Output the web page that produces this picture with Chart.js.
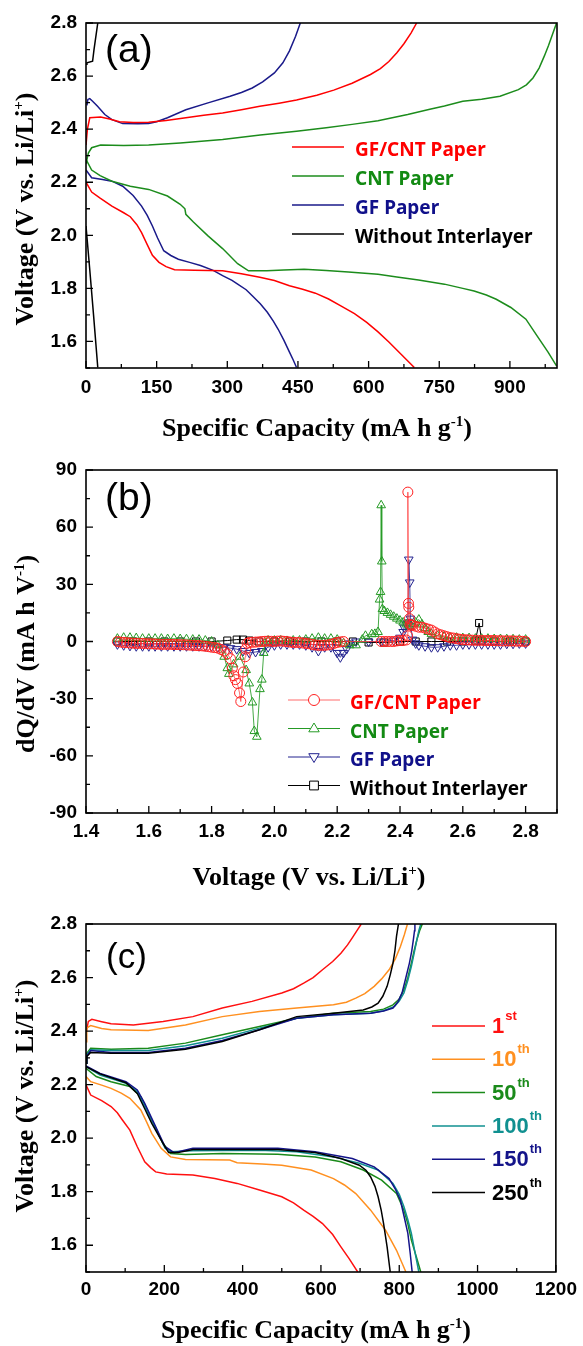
<!DOCTYPE html>
<html>
<head>
<meta charset="utf-8">
<script src="https://cdn.jsdelivr.net/npm/chart.js@4.4.1/dist/chart.umd.min.js"></script>
<style>
  body { margin: 0; background: #fff; width: 583px; height: 1346px; position: relative; overflow: hidden; }
  canvas { position: absolute; left: 0; }
</style>
</head>
<body>
<canvas id="chartA" width="583" height="448" style="top:0px"></canvas>
<canvas id="chartB" width="583" height="458" style="top:440px"></canvas>
<canvas id="chartC" width="583" height="456" style="top:890px"></canvas>
<script>
// ---- (a) first cycle voltage profiles: [capacity, voltage]
const gfcntDischarge = [[0,2.20],[12,2.163],[30,2.14],[55,2.11],[80,2.085],[94,2.07],[108,2.04],[118,2.01],[130,1.965],[141,1.925],[155,1.898],[170,1.882],[188,1.87],[230,1.868],[290,1.866],[330,1.855],[369,1.842],[400,1.83],[432,1.81],[460,1.797],[487,1.782],[515,1.76],[541,1.734],[570,1.705],[596,1.672],[620,1.636],[643,1.598],[670,1.55],[697,1.502]];
const gfcntCharge = [[0,2.34],[3,2.40],[8,2.443],[31,2.446],[50,2.438],[71,2.428],[100,2.425],[133,2.426],[170,2.433],[212,2.443],[250,2.452],[290,2.461],[330,2.473],[369,2.486],[410,2.498],[447,2.51],[490,2.528],[526,2.547],[565,2.573],[604,2.606],[625,2.628],[643,2.655],[660,2.688],[675,2.722],[690,2.762],[702,2.8]];
const cntDischarge = [[0,2.286],[12,2.246],[30,2.225],[55,2.204],[94,2.185],[133,2.173],[173,2.148],[200,2.117],[210,2.1],[212,2.079],[228,2.05],[259,1.998],[290,1.95],[322,1.893],[345,1.866],[384,1.866],[420,1.869],[463,1.872],[510,1.867],[557,1.862],[620,1.853],[660,1.843],[706,1.832],[761,1.816],[800,1.8],[824,1.79],[850,1.775],[871,1.759],[902,1.728],[934,1.684],[957,1.623],[981,1.56],[999,1.508]];
const cntCharge = [[0,2.27],[5,2.31],[12,2.33],[31,2.34],[80,2.338],[133,2.34],[200,2.348],[290,2.361],[370,2.378],[447,2.392],[510,2.405],[565,2.418],[620,2.432],[683,2.455],[730,2.475],[761,2.487],[800,2.505],[840,2.513],[879,2.524],[918,2.549],[935,2.567],[949,2.593],[962,2.63],[973,2.675],[982,2.715],[989,2.75],[999,2.8]];
const gfDischarge = [[0,2.246],[12,2.217],[35,2.21],[55,2.204],[78,2.185],[100,2.15],[118,2.11],[130,2.075],[141,2.035],[152,1.99],[165,1.942],[180,1.924],[196,1.91],[220,1.898],[243,1.886],[270,1.868],[290,1.848],[310,1.83],[322,1.816],[340,1.795],[353,1.772],[370,1.742],[385,1.71],[398,1.676],[408,1.646],[420,1.605],[432,1.56],[440,1.53],[447,1.502]];
const gfCharge = [[2,2.49],[4,2.512],[8,2.515],[14,2.505],[24,2.487],[40,2.455],[55,2.436],[78,2.421],[110,2.42],[133,2.421],[150,2.428],[173,2.443],[190,2.456],[212,2.473],[259,2.499],[306,2.524],[330,2.538],[353,2.555],[375,2.578],[400,2.612],[418,2.65],[432,2.695],[445,2.75],[455,2.8]];
const noneDischarge = [[0,2.035],[8,1.87],[16,1.7],[25,1.502]];
const noneCharge = [[0,2.645],[2,2.65],[14,2.656],[17,2.7],[20,2.737],[25,2.8]];

// ---- (b) dQ/dV: [voltage, dQ/dV]
const gfcntDq = [[1.50,0],[1.51,-0.3],[1.52,-0.5],[1.53,-0.6],[1.54,-0.8],[1.55,-0.9],[1.56,-1.0],[1.57,-1.0],[1.58,-1.0],[1.59,-1.1],[1.60,-1.2],[1.61,-1.2],[1.62,-1.3],[1.63,-1.4],[1.64,-1.5],[1.65,-1.5],[1.66,-1.5],[1.67,-1.5],[1.68,-1.6],[1.69,-1.6],[1.70,-1.7],[1.71,-1.7],[1.72,-1.8],[1.73,-1.9],[1.74,-2.0],[1.75,-2.1],[1.76,-2.2],[1.77,-2.3],[1.78,-2.5],[1.79,-2.7],[1.80,-3.0],[1.81,-3.2],[1.82,-3.5],[1.83,-4.2],[1.84,-5.0],[1.85,-6.5],[1.86,-9.0],[1.866,-14],[1.871,-18],[1.876,-20],[1.882,-22],[1.889,-27],[1.893,-31.5],[1.901,-16],[1.907,-8],[1.909,-4],[1.913,-1],[1.92,-0.5],[1.93,-0.4],[1.94,-0.3],[1.95,-0.2],[1.96,0],[1.97,0.1],[1.98,0.2],[1.99,0.1],[2.00,0],[2.01,0.2],[2.02,0.3],[2.03,0.1],[2.04,0],[2.05,-0.3],[2.06,-0.5],[2.07,-0.5],[2.08,-0.5],[2.09,-0.8],[2.10,-1.0],[2.11,-1.2],[2.12,-1.5],[2.13,-1.8],[2.14,-2.0],[2.15,-2.0],[2.16,-2.0],[2.17,-1.8],[2.18,-1.5],[2.19,-1.0],[2.20,-0.5],[2.21,-0.2],[2.22,0],[2.34,0],[2.35,0],[2.36,0],[2.37,0],[2.38,0],[2.39,0.3],[2.40,0.5],[2.41,0.5],[2.42,0.8],[2.424,3],[2.425,78.4],[2.427,20],[2.428,18],[2.430,12],[2.432,9],[2.435,8.5],[2.44,8.5],[2.45,8],[2.46,7.5],[2.47,7.5],[2.48,7],[2.49,6.5],[2.50,6],[2.51,5],[2.52,4],[2.53,3.5],[2.54,3],[2.55,2.5],[2.56,2],[2.57,1.8],[2.58,1.5],[2.59,1.2],[2.60,1],[2.61,0.9],[2.62,0.8],[2.63,0.7],[2.64,0.6],[2.65,0.6],[2.66,0.6],[2.67,0.5],[2.68,0.5],[2.69,0.5],[2.70,0.5],[2.71,0.4],[2.72,0.4],[2.73,0.3],[2.74,0.3],[2.75,0.3],[2.76,0.3],[2.77,0.2],[2.78,0.2],[2.79,0.1],[2.80,0]];
const cntDq = [[1.50,1.5],[1.52,2],[1.54,2],[1.56,1.8],[1.58,1.5],[1.60,1.5],[1.62,1.5],[1.64,1.5],[1.66,1.3],[1.68,1.5],[1.70,1.3],[1.72,1.2],[1.74,1.0],[1.76,1.0],[1.78,0.5],[1.80,0],[1.82,-2],[1.84,-8],[1.85,-14],[1.855,-17],[1.87,-12],[1.89,-8],[1.91,-15],[1.92,-22],[1.93,-32],[1.936,-47],[1.944,-50],[1.954,-25],[1.96,-20],[1.966,-6],[1.97,-1],[1.98,0.5],[2.00,0.5],[2.02,0.5],[2.04,0.3],[2.06,0.5],[2.08,0.5],[2.10,1],[2.12,1.5],[2.14,2],[2.16,1.5],[2.18,1.5],[2.20,1],[2.22,-1],[2.24,-2],[2.26,-2],[2.28,1],[2.29,3],[2.31,3.8],[2.32,4],[2.33,5],[2.335,22],[2.338,26],[2.34,71.5],[2.342,42],[2.344,17],[2.35,16],[2.36,15],[2.37,14],[2.38,13],[2.39,12],[2.40,11],[2.41,10],[2.42,9],[2.43,8],[2.44,9],[2.45,10],[2.46,11.5],[2.47,9],[2.48,7],[2.49,5],[2.50,4],[2.52,3],[2.54,2.5],[2.56,2],[2.58,2],[2.60,1.8],[2.62,1.8],[2.64,1.5],[2.66,1.5],[2.68,1.5],[2.70,1.3],[2.72,1.3],[2.74,1.2],[2.76,1.2],[2.78,1],[2.80,1]];
const gfDq = [[1.50,-1.5],[1.52,-2],[1.54,-2.3],[1.56,-2.5],[1.58,-2.5],[1.60,-2.5],[1.62,-2.5],[1.64,-2.5],[1.66,-2.5],[1.68,-2.5],[1.70,-2.5],[1.72,-2.5],[1.74,-2.5],[1.76,-2.5],[1.78,-2.5],[1.80,-2.5],[1.82,-3],[1.84,-3],[1.86,-3.5],[1.88,-4],[1.90,-5],[1.92,-6],[1.94,-5.5],[1.96,-5],[1.98,-3],[2.00,-2],[2.02,-1.5],[2.04,-1.5],[2.06,-1.5],[2.08,-1.5],[2.10,-2],[2.12,-3],[2.14,-5],[2.16,-3],[2.18,-3],[2.20,-6],[2.21,-8.3],[2.22,-6],[2.23,-4],[2.24,-1],[2.26,0],[2.30,0],[2.34,0],[2.38,0.5],[2.40,2],[2.41,5],[2.413,7.3],[2.42,9],[2.425,10],[2.428,43],[2.431,31],[2.433,12],[2.435,8],[2.44,1],[2.45,-1],[2.46,-2],[2.48,-2.5],[2.50,-3],[2.52,-3],[2.54,-2.5],[2.56,-2],[2.58,-2],[2.60,-1.5],[2.62,-1.5],[2.64,-1.5],[2.66,-1.5],[2.68,-1.5],[2.70,-1.5],[2.72,-1.5],[2.74,-1.2],[2.76,-1.2],[2.78,-1],[2.80,-1]];
const noneDq = [[1.50,0],[1.55,0],[1.60,0],[1.65,0],[1.70,0],[1.75,0],[1.80,0],[1.85,0.5],[1.88,1],[1.90,1],[1.92,0.5],[1.95,0],[2.00,0],[2.05,0],[2.10,0],[2.15,0],[2.20,0],[2.25,0],[2.30,-0.5],[2.35,-0.5],[2.40,0],[2.45,0],[2.50,0],[2.55,0],[2.60,0],[2.64,0.5],[2.652,9.7],[2.66,0.5],[2.70,0],[2.75,0],[2.80,0]];

// ---- (c) GF/CNT cell over cycling: [capacity, voltage]
const c1Dis = [[0,2.199],[12,2.161],[40,2.14],[64,2.118],[80,2.095],[93,2.068],[112,2.03],[131,1.968],[150,1.912],[165,1.89],[178,1.874],[206,1.866],[273,1.862],[329,1.849],[386,1.831],[443,1.806],[500,1.781],[530,1.758],[556,1.731],[580,1.708],[604,1.681],[630,1.64],[651,1.594],[672,1.55],[694,1.5]];
const c1Cha = [[0,2.392],[6,2.436],[15,2.444],[40,2.435],[64,2.427],[121,2.423],[197,2.436],[273,2.454],[348,2.486],[424,2.511],[500,2.542],[530,2.558],[556,2.579],[580,2.6],[604,2.629],[630,2.66],[651,2.691],[668,2.722],[680,2.748],[692,2.775],[703,2.8]];
const c10Dis = [[0,2.23],[12,2.211],[40,2.198],[64,2.186],[90,2.168],[112,2.149],[140,2.105],[155,2.06],[168,2.018],[192,1.962],[216,1.93],[254,1.92],[367,1.918],[386,1.908],[450,1.903],[500,1.899],[575,1.881],[632,1.849],[660,1.825],[689,1.793],[727,1.731],[765,1.656],[793,1.581],[817,1.5]];
const c10Cha = [[0,2.36],[2,2.411],[12,2.421],[40,2.41],[64,2.405],[159,2.402],[254,2.423],[348,2.454],[443,2.473],[538,2.486],[632,2.498],[665,2.508],[689,2.523],[712,2.54],[736,2.567],[755,2.595],[774,2.629],[790,2.67],[803,2.716],[813,2.76],[821,2.8]];
const c50Dis = [[0,2.261],[26,2.23],[64,2.211],[112,2.193],[140,2.155],[168,2.068],[197,1.98],[216,1.943],[254,1.939],[348,1.943],[490,1.94],[585,1.93],[651,1.912],[708,1.881],[755,1.843],[793,1.793],[812,1.731],[822,1.68],[831,1.619],[843,1.56],[855,1.5]];
const c50Cha = [[0,2.28],[2,2.317],[12,2.336],[64,2.332],[159,2.336],[254,2.355],[348,2.386],[443,2.417],[538,2.448],[632,2.467],[727,2.473],[760,2.482],[784,2.498],[800,2.52],[812,2.554],[822,2.6],[831,2.654],[838,2.7],[845,2.741],[852,2.775],[859,2.8]];
const c100Dis = [[0,2.267],[36,2.236],[102,2.205],[131,2.174],[150,2.12],[168,2.068],[202,1.962],[216,1.949],[273,1.953],[443,1.955],[538,1.949],[632,1.93],[698,1.906],[746,1.881],[784,1.831],[800,1.79],[812,1.744],[822,1.695],[831,1.644],[840,1.575],[850,1.5]];
const c100Cha = [[0,2.28],[2,2.311],[12,2.33],[64,2.327],[159,2.327],[254,2.345],[348,2.373],[443,2.411],[538,2.448],[632,2.461],[727,2.467],[760,2.476],[788,2.492],[800,2.512],[812,2.542],[822,2.59],[831,2.642],[838,2.69],[845,2.741],[850,2.775],[855,2.8]];
const c150Dis = [[0,2.27],[36,2.242],[102,2.211],[131,2.18],[150,2.13],[168,2.074],[202,1.968],[225,1.946],[273,1.962],[490,1.962],[585,1.949],[680,1.924],[736,1.893],[774,1.849],[790,1.81],[803,1.768],[812,1.71],[822,1.644],[828,1.57],[833,1.5]];
const c150Cha = [[0,2.28],[2,2.307],[12,2.327],[64,2.32],[159,2.32],[254,2.336],[348,2.365],[443,2.405],[538,2.448],[632,2.461],[727,2.467],[760,2.475],[784,2.486],[797,2.51],[807,2.542],[817,2.6],[826,2.654],[832,2.7],[836,2.741],[839,2.775],[840,2.8]];
const c250Dis = [[0,2.267],[36,2.24],[102,2.207],[131,2.167],[150,2.11],[168,2.055],[197,1.98],[211,1.946],[235,1.946],[273,1.958],[490,1.958],[585,1.946],[651,1.924],[698,1.899],[715,1.88],[727,1.855],[738,1.82],[746,1.781],[754,1.73],[760,1.681],[769,1.594],[777,1.5]];
const c250Cha = [[0,2.28],[2,2.305],[12,2.32],[64,2.317],[159,2.317],[254,2.332],[348,2.361],[443,2.405],[538,2.454],[632,2.467],[708,2.479],[730,2.49],[746,2.504],[758,2.53],[769,2.567],[777,2.61],[784,2.654],[789,2.7],[793,2.754],[798,2.8]];

// ---- tick labels
const ticksCapA = [0, 150, 300, 450, 600, 750, 900];
const ticksCapC = [0, 200, 400, 600, 800, 1000, 1200];
const ticksVolt = [1.6, 1.8, 2.0, 2.2, 2.4, 2.6, 2.8];
const ticksVoltB = [1.4, 1.6, 1.8, 2.0, 2.2, 2.4, 2.6, 2.8];
const ticksDq = [-90, -60, -30, 0, 30, 60, 90];

const tickFont = { family: "'Liberation Sans', Arial, sans-serif", size: 19, weight: 'bold' };
const titleFont = "bold 26px 'Liberation Serif', 'Times New Roman', serif";
const titleSupFont = "bold 15px 'Liberation Serif', 'Times New Roman', serif";

function pts(arr) { return arr.map(p => ({ x: p[0], y: p[1] })); }

function drawRich(ctx, parts, x, y, font, supFont, rise, color) {
  // parts: [text, isSup]; drawn centred on x, baseline y
  let w = 0;
  parts.forEach(p => { ctx.font = p[1] ? supFont : font; w += ctx.measureText(p[0]).width; });
  let cx = x - w / 2;
  ctx.fillStyle = color || '#000';
  ctx.textBaseline = 'alphabetic';
  ctx.textAlign = 'left';
  parts.forEach(p => {
    ctx.font = p[1] ? supFont : font;
    ctx.fillText(p[0], cx, p[1] ? y - rise : y);
    cx += ctx.measureText(p[0]).width;
  });
}

function drawMarker(ctx, style, x, y, r, color) {
  ctx.save();
  ctx.strokeStyle = color; ctx.lineWidth = 1;
  ctx.beginPath();
  if (style === 'circle') {
    ctx.arc(x, y, r, 0, Math.PI * 2);
  } else if (style === 'triangle') {
    ctx.moveTo(x, y - r); ctx.lineTo(x + r * 0.95, y + r * 0.6); ctx.lineTo(x - r * 0.95, y + r * 0.6); ctx.closePath();
  } else if (style === 'down') {
    ctx.moveTo(x, y + r); ctx.lineTo(x + r * 0.95, y - r * 0.6); ctx.lineTo(x - r * 0.95, y - r * 0.6); ctx.closePath();
  } else {
    ctx.rect(x - r * 0.8, y - r * 0.8, r * 1.6, r * 1.6);
  }
  ctx.fillStyle = '#fff'; ctx.fill();
  ctx.stroke();
  ctx.restore();
}

const panelDeco = {
  id: 'panel',
  afterDatasetsDraw(chart, args, o) {
    const ctx = chart.ctx;
    const ca = chart.chartArea;
    const xs = chart.scales.x, ys = chart.scales.y;
    ctx.save();
    // frame
    ctx.strokeStyle = '#000'; ctx.lineWidth = 1.6;
    ctx.strokeRect(ca.left, ca.top, ca.right - ca.left, ca.bottom - ca.top);
    // inward ticks, major and minor (minor halfway between majors)
    ctx.lineWidth = 1.3;
    const minorOf = (scale) => {
      const v = scale.ticks.map(t => t.value), out = [];
      const half = (v[1] - v[0]) / 2;
      if (v[0] - half >= scale.min - 1e-9) out.push(v[0] - half);
      for (let i = 0; i < v.length - 1; i++) out.push((v[i] + v[i + 1]) / 2);
      if (v[v.length - 1] + half <= scale.max + 1e-9) out.push(v[v.length - 1] + half);
      return out;
    };
    ctx.beginPath();
    xs.ticks.forEach(t => { const px = xs.getPixelForValue(t.value); ctx.moveTo(px, ca.bottom); ctx.lineTo(px, ca.bottom - 7); });
    minorOf(xs).forEach(v => { const px = xs.getPixelForValue(v); ctx.moveTo(px, ca.bottom); ctx.lineTo(px, ca.bottom - 4); });
    ys.ticks.forEach(t => { const py = ys.getPixelForValue(t.value); ctx.moveTo(ca.left, py); ctx.lineTo(ca.left + 7, py); });
    minorOf(ys).forEach(v => { const py = ys.getPixelForValue(v); ctx.moveTo(ca.left, py); ctx.lineTo(ca.left + 4, py); });
    ctx.stroke();

    // axis titles
    drawRich(ctx, o.xTitle, o.xTitlePos[0], o.xTitlePos[1], titleFont, titleSupFont, 10);
    ctx.save();
    ctx.translate(o.yTitlePos[0], o.yTitlePos[1]);
    ctx.rotate(-Math.PI / 2);
    drawRich(ctx, o.yTitle, 0, 0, titleFont, titleSupFont, 10);
    ctx.restore();

    // panel label
    ctx.fillStyle = '#000';
    ctx.font = o.labelFont;
    ctx.textAlign = 'left'; ctx.textBaseline = 'alphabetic';
    ctx.fillText(o.label, o.labelPos[0], o.labelPos[1]);

    // legend
    const lg = o.legend;
    lg.items.forEach((it, i) => {
      const y = lg.y + i * lg.gap;
      ctx.strokeStyle = it.line; ctx.lineWidth = lg.lineWidth;
      ctx.beginPath(); ctx.moveTo(lg.x0, y); ctx.lineTo(lg.x1, y); ctx.stroke();
      if (it.marker) drawMarker(ctx, it.marker, (lg.x0 + lg.x1) / 2, y, 5.5, it.markerColor);
      ctx.font = lg.font;
      ctx.fillStyle = it.text; ctx.textBaseline = 'alphabetic'; ctx.textAlign = 'left';
      ctx.fillText(it.label, lg.tx, y + lg.baseShift);
      if (it.sup) {
        const w = ctx.measureText(it.label).width;
        ctx.font = lg.supFont;
        ctx.fillText(it.sup, lg.tx + w + 1, y + lg.baseShift - lg.supRise);
      }
    });
    ctx.restore();
  }
};

function axesFor(xr, yr, xTicks, yTicks, xFmt, yFmt, xPad, xHeight) {
  return {
    x: {
      type: 'linear', min: xr[0], max: xr[1],
      afterBuildTicks(s) { s.ticks = xTicks.map(v => ({ value: v })); },
      ticks: { font: tickFont, color: '#000', padding: xPad, callback: xFmt, maxRotation: 0 },
      grid: { display: false, drawTicks: false }, border: { display: false },
      afterFit(s) { s.height = xHeight; }
    },
    y: {
      type: 'linear', min: yr[0], max: yr[1],
      afterBuildTicks(s) { s.ticks = yTicks.map(v => ({ value: v })); },
      ticks: { font: tickFont, color: '#000', padding: 9, callback: yFmt },
      grid: { display: false, drawTicks: false }, border: { display: false },
      afterFit(s) { s.width = 86; }
    }
  };
}
const fmtInt = v => String(Math.round(v));
const fmt1 = v => v.toFixed(1);

function lineSet(data, color, width) {
  return { data: pts(data), borderColor: color, borderWidth: width || 1.5, showLine: true,
           pointRadius: 0, pointHoverRadius: 0, fill: false, tension: 0 };
}

const RED = '#ff0000', GREEN = '#1c8c1c', BLUE = '#1a1a8a', BLACK = '#000000';
const legendFontA = "bold 19px 'Noto Sans', 'Open Sans', sans-serif";

// ---------- chart (a)
new Chart(document.getElementById('chartA'), {
  type: 'scatter',
  data: { datasets: [
    lineSet(gfcntDischarge, RED), lineSet(gfcntCharge, RED),
    lineSet(cntDischarge, GREEN), lineSet(cntCharge, GREEN),
    lineSet(gfDischarge, BLUE), lineSet(gfCharge, BLUE),
    lineSet(noneDischarge, BLACK), lineSet(noneCharge, BLACK)
  ] },
  options: {
    responsive: false, animation: false, devicePixelRatio: 1,
    layout: { padding: { top: 23, right: 26, left: 0, bottom: 0 } },
    scales: axesFor([0, 1000], [1.5, 2.8], ticksCapA, ticksVolt, fmtInt, fmt1, 8, 80),
    plugins: {
      legend: { display: false }, tooltip: { enabled: false },
      panel: {
        xTitle: [['Specific Capacity (mA h g'], ['-1', true], [')']], xTitlePos: [317, 436],
        yTitle: [['Voltage (V vs. Li/Li'], ['+', true], [')']], yTitlePos: [33, 209],
        label: '(a)', labelFont: "39px 'Liberation Sans', Arial, sans-serif", labelPos: [105, 62],
        legend: { x0: 292, x1: 344, tx: 355, y: 147, gap: 29, lineWidth: 1.5, font: legendFontA, baseShift: 9,
          items: [
            { label: 'GF/CNT Paper', line: RED, text: '#ff0000' },
            { label: 'CNT Paper', line: GREEN, text: '#138a13' },
            { label: 'GF Paper', line: BLUE, text: '#10108a' },
            { label: 'Without Interlayer', line: BLACK, text: '#000' }
          ] }
      }
    }
  },
  plugins: [panelDeco]
});

// ---------- chart (b)
function markerSet(data, color, lineColor, style, rot, r) {
  return { data: pts(data), borderColor: lineColor, borderWidth: 1, showLine: true, tension: 0,
           pointStyle: style, pointRotation: rot || 0, pointRadius: r || 4.5, pointHoverRadius: r || 4.5,
           pointBorderColor: color, pointBackgroundColor: 'rgba(255,255,255,0)', pointBorderWidth: 1, fill: false };
}
new Chart(document.getElementById('chartB'), {
  type: 'scatter',
  data: { datasets: [
    markerSet(gfcntDq, '#ff2020', 'rgba(255,70,70,0.8)', 'circle', 0, 5),
    markerSet(cntDq, '#259a25', 'rgba(37,154,37,0.85)', 'triangle', 0, 5),
    markerSet(gfDq, '#22228f', 'rgba(34,34,143,0.85)', 'triangle', 180, 5),
    markerSet(noneDq, '#000', '#000', 'rect', 0, 5)
  ] },
  options: {
    responsive: false, animation: false, devicePixelRatio: 1,
    layout: { padding: { top: 30, right: 26, left: 0, bottom: 0 } },
    scales: axesFor([1.4, 2.9], [-90, 90], ticksVoltB, ticksDq, fmt1, fmtInt, 7, 85),
    plugins: {
      legend: { display: false }, tooltip: { enabled: false },
      panel: {
        xTitle: [['Voltage (V vs. Li/Li'], ['+', true], [')']], xTitlePos: [309, 445],
        yTitle: [['dQ/dV (mA h V'], ['-1', true], [')']], yTitlePos: [34, 214],
        label: '(b)', labelFont: "39px 'Liberation Sans', Arial, sans-serif", labelPos: [105, 70],
        legend: { x0: 288, x1: 340, tx: 350, y: 260, gap: 28.5, lineWidth: 1, font: legendFontA, baseShift: 9,
          items: [
            { label: 'GF/CNT Paper', line: 'rgba(255,70,70,0.8)', marker: 'circle', markerColor: '#ff2020', text: '#ff0000' },
            { label: 'CNT Paper', line: '#259a25', marker: 'triangle', markerColor: '#259a25', text: '#138a13' },
            { label: 'GF Paper', line: '#22228f', marker: 'down', markerColor: '#22228f', text: '#10108a' },
            { label: 'Without Interlayer', line: '#000', marker: 'rect', markerColor: '#000', text: '#000' }
          ] }
      }
    }
  },
  plugins: [panelDeco]
});

// ---------- chart (c)
const C1 = '#ff1010', C10 = '#ff9020', C50 = '#1a8a1a', C100 = '#109090', C150 = '#14148a', C250 = '#000000';
new Chart(document.getElementById('chartC'), {
  type: 'scatter',
  data: { datasets: [
    lineSet(c250Dis, C250), lineSet(c250Cha, C250),
    lineSet(c150Dis, C150), lineSet(c150Cha, C150),
    lineSet(c100Dis, C100), lineSet(c100Cha, C100),
    lineSet(c50Dis, C50), lineSet(c50Cha, C50),
    lineSet(c10Dis, C10), lineSet(c10Cha, C10),
    lineSet(c1Dis, C1), lineSet(c1Cha, C1)
  ] },
  options: {
    responsive: false, animation: false, devicePixelRatio: 1,
    layout: { padding: { top: 34, right: 26, left: 0, bottom: 0 } },
    scales: axesFor([0, 1200], [1.5, 2.8], ticksCapC, ticksVolt, fmtInt, fmt1, 6, 74),
    plugins: {
      legend: { display: false }, tooltip: { enabled: false },
      panel: {
        xTitle: [['Specific Capacity (mA h g'], ['-1', true], [')']], xTitlePos: [316, 448],
        yTitle: [['Voltage (V vs. Li/Li'], ['+', true], [')']], yTitlePos: [33, 206],
        label: '(c)', labelFont: "35px 'Liberation Sans', Arial, sans-serif", labelPos: [106, 78],
        legend: { x0: 432, x1: 485, tx: 492, y: 136, gap: 33.3, lineWidth: 1.5,
          font: "bold 22px 'Liberation Sans', Arial, sans-serif", supFont: "bold 13px 'Liberation Sans', Arial, sans-serif",
          baseShift: 7, supRise: 13,
          items: [
            { label: '1', sup: 'st', line: C1, text: '#ff1010' },
            { label: '10', sup: 'th', line: C10, text: '#ff9020' },
            { label: '50', sup: 'th', line: C50, text: '#1a8a1a' },
            { label: '100', sup: 'th', line: C100, text: '#109090' },
            { label: '150', sup: 'th', line: C150, text: '#14148a' },
            { label: '250', sup: 'th', line: C250, text: '#000' }
          ] }
      }
    }
  },
  plugins: [panelDeco]
});
</script>
</body>
</html>
